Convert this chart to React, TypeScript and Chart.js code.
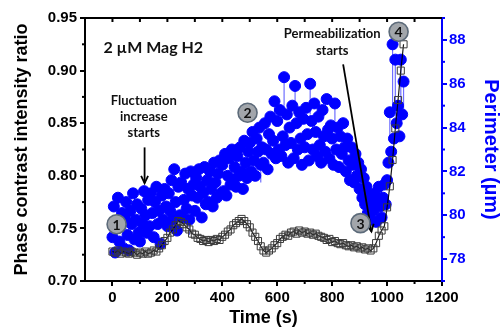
import React, { useEffect, useRef } from 'react';
import { Chart, registerables } from 'chart.js';

Chart.register(...registerables);

// ---------- data ----------
const ratioTimes = [
  0, 10, 20, 30, 40, 50, 60, 70, 80, 90, 100, 110, 120, 130, 140, 150, 160, 170, 180, 190,
  200, 210, 220, 230, 240, 250, 260, 270, 280, 290, 300, 310, 320, 330, 340, 350, 360, 370, 380, 390,
  400, 410, 420, 430, 440, 450, 460, 470, 480, 490, 500, 510, 520, 530, 540, 550, 560, 570, 580, 590,
  600, 610, 620, 630, 640, 650, 660, 670, 680, 690, 700, 710, 720, 730, 740, 750, 760, 770, 780, 790,
  800, 810, 820, 830, 840, 850, 860, 870, 880, 890, 900, 910, 920, 930, 940, 950, 960, 970, 980, 990,
  1000, 1010, 1020, 1030, 1040, 1050, 1060,
];
const ratio = [
  0.728, 0.727, 0.729, 0.726, 0.728, 0.727, 0.726, 0.728, 0.727, 0.725, 0.727, 0.726, 0.728, 0.726, 0.727, 0.729, 0.728, 0.731, 0.734, 0.738,
  0.741, 0.746, 0.749, 0.753, 0.757, 0.756, 0.754, 0.751, 0.749, 0.745, 0.744, 0.741, 0.740, 0.738, 0.739, 0.737, 0.739, 0.738, 0.740, 0.739,
  0.742, 0.744, 0.747, 0.749, 0.753, 0.755, 0.757, 0.759, 0.757, 0.754, 0.751, 0.746, 0.742, 0.738, 0.733, 0.729, 0.727, 0.729, 0.731, 0.734,
  0.736, 0.740, 0.742, 0.744, 0.743, 0.746, 0.747, 0.745, 0.748, 0.746, 0.747, 0.745, 0.746, 0.744, 0.745, 0.743, 0.742, 0.741, 0.739, 0.740,
  0.737, 0.738, 0.736, 0.735, 0.736, 0.734, 0.733, 0.734, 0.732, 0.733, 0.731, 0.732, 0.730, 0.731, 0.729, 0.731, 0.736, 0.743, 0.748, 0.752,
  0.770, 0.790, 0.815, 0.845, 0.872, 0.900, 0.925,
];

const perimeterTimes = [
  0, 5, 10, 15, 20, 25, 30, 35, 40, 45, 50, 55, 60, 65, 70, 75, 80, 85, 90, 95,
  100, 105, 110, 115, 120, 125, 130, 135, 140, 145, 150, 155, 160, 165, 170, 175, 180, 185, 190, 195,
  200, 205, 210, 215, 220, 225, 230, 235, 240, 245, 250, 255, 260, 265, 270, 275, 280, 285, 290, 295,
  300, 305, 310, 315, 320, 325, 330, 335, 340, 345, 350, 355, 360, 365, 370, 375, 380, 385, 390, 395,
  400, 405, 410, 415, 420, 425, 430, 435, 440, 445, 450, 455, 460, 465, 470, 475, 480, 485, 490, 495,
  500, 505, 510, 515, 520, 525, 530, 535, 540, 545, 550, 555, 560, 565, 570, 575, 580, 585, 590, 595,
  600, 605, 610, 615, 620, 625, 630, 635, 640, 645, 650, 655, 660, 665, 670, 675, 680, 685, 690, 695,
  700, 705, 710, 715, 720, 725, 730, 735, 740, 745, 750, 755, 760, 765, 770, 775, 780, 785, 790, 795,
  800, 805, 810, 815, 820, 825, 830, 835, 840, 845, 850, 855, 860, 865, 870, 875, 880, 885, 890, 895,
  900, 905, 910, 915, 920, 925, 930, 935, 940, 945, 950, 955, 960, 965, 970, 975, 980, 985, 990, 995,
  1000, 1005, 1010, 1015, 1020, 1025, 1030, 1035, 1040, 1045, 1050, 1055, 1060,
];
const perimeter = [
  79.0, 80.4, 78.3, 79.7, 80.8, 78.8, 79.5, 80.1, 78.5, 79.9, 80.6, 79.1, 78.4, 80.2, 79.6, 81.0, 78.9, 79.8, 80.5, 79.2,
  78.8, 80.3, 79.6, 81.1, 80.0, 79.2, 80.7, 79.5, 81.0, 80.1, 79.0, 80.6, 81.3, 79.6, 80.2, 78.7, 80.9, 79.8, 81.2, 80.4,
  79.5, 81.0, 80.2, 81.6, 79.8, 82.1, 80.6, 79.3, 81.3, 80.0, 81.5, 79.9, 80.7, 81.9, 80.3, 81.2, 79.8, 82.0, 80.9, 81.4,
  80.2, 81.7, 80.8, 82.1, 81.3, 79.9, 81.0, 82.2, 80.5, 81.6, 80.6, 82.0, 81.2, 80.4, 82.4, 81.5, 80.8, 81.9, 82.5, 81.0,
  82.3, 81.1, 82.8, 80.9, 81.8, 82.6, 81.4, 83.0, 81.6, 82.2, 81.3, 82.7, 81.8, 83.1, 82.0, 81.2, 83.4, 82.4, 81.7, 82.9,
  83.3, 82.0, 83.8, 82.5, 81.8, 83.5, 82.9, 84.0, 82.3, 83.1, 82.4, 84.2, 83.0, 82.1, 83.7, 84.5, 82.8, 83.4, 85.2, 82.6,
  84.3, 83.0, 84.8, 82.7, 83.6, 86.3, 83.2, 84.6, 82.4, 84.0, 83.3, 85.0, 82.6, 85.9, 84.2, 83.0, 84.7, 83.5, 82.3, 84.4,
  83.1, 84.9, 83.7, 82.5, 86.0, 84.3, 83.0, 85.1, 83.8, 82.7, 84.5, 83.2, 82.4, 84.8, 83.6, 82.9, 85.3, 83.9, 82.6, 84.1,
  83.5, 82.3, 85.1, 83.0, 84.0, 82.2, 83.6, 82.8, 84.2, 83.1, 82.0, 83.5, 82.5, 81.6, 83.1, 82.3, 81.5, 82.8, 81.8, 82.4,
  81.2, 82.1, 80.8, 81.7, 80.5, 81.3, 80.1, 80.9, 79.8, 80.6, 80.2, 81.0, 79.7, 80.6, 81.3, 80.4, 79.9, 80.8, 81.4, 80.5,
  81.6, 82.4, 84.7, 82.9, 87.8, 83.5, 87.1, 84.2, 85.0, 83.6, 87.1, 84.6, 86.1,
];
// downward error bars (only the visible ones)
const errTimes = [170, 225, 280, 385, 540, 590, 625, 665, 720, 810, 1010, 1020, 1030, 1050, 1060];
const errDown = [0.6, 0.8, 0.7, 0.6, 0.8, 1.0, 1.3, 1.2, 1.4, 1.0, 1.2, 3.2, 2.6, 2.8, 1.6];

const xTicks = [0, 200, 400, 600, 800, 1000, 1200];
const xMinor = [100, 300, 500, 700, 900, 1100];
const yTicks = [0.7, 0.75, 0.8, 0.85, 0.9, 0.95];
const yMinor = [0.725, 0.775, 0.825, 0.875, 0.925];
const y2Ticks = [78, 80, 82, 84, 86, 88];
const y2Minor = [77, 79, 81, 83, 85, 87, 89];

const markerLabels = ['1', '2', '3', '4'];
const markerTimes = [15, 492, 903, 1042];
const markerRatios = [0.754, 0.86, 0.755, 0.937];

const concText = '2 µM Mag H2';
const fluctLines = ['Fluctuation', 'increase', 'starts'];
const fluctRatios = [0.871, 0.856, 0.841];
const permLines = ['Permeabilization', 'starts'];
const permRatios = [0.935, 0.919];

const BLUE = '#0000ff';
const ARIAL = '"Liberation Sans", Arial, sans-serif';
const NOTE = 'Lato, "Open Sans", sans-serif';

const decor = {
  id: 'decor',
  beforeDatasetsDraw(chart: any) {
    const { ctx } = chart;
    const x = chart.scales.x;
    const y2 = chart.scales.y2;
    ctx.save();
    ctx.strokeStyle = '#6f6fff';
    ctx.lineWidth = 1.2;
    errTimes.forEach((t, i) => {
      const idx = perimeterTimes.indexOf(t);
      if (idx < 0) return;
      const v = perimeter[idx];
      const px = x.getPixelForValue(t);
      ctx.beginPath();
      ctx.moveTo(px, y2.getPixelForValue(v));
      ctx.lineTo(px, y2.getPixelForValue(v - errDown[i]));
      ctx.stroke();
    });
    ctx.restore();
  },
  afterDraw(chart: any) {
    const { ctx, chartArea: a } = chart;
    const x = chart.scales.x;
    const y = chart.scales.y;
    const y2 = chart.scales.y2;
    ctx.save();
    // top border
    ctx.strokeStyle = '#000';
    ctx.lineWidth = 2;
    ctx.beginPath();
    ctx.moveTo(a.left - 1, a.top);
    ctx.lineTo(a.right, a.top);
    ctx.stroke();
    // top ticks (inward)
    [...xTicks, ...xMinor].forEach((v) => {
      const px = x.getPixelForValue(v);
      if (px > a.right - 1) return;
      ctx.beginPath();
      ctx.moveTo(px, a.top);
      ctx.lineTo(px, a.top + 4);
      ctx.stroke();
    });
    // bottom minor ticks
    xMinor.forEach((v) => {
      const px = x.getPixelForValue(v);
      ctx.beginPath();
      ctx.moveTo(px, a.bottom);
      ctx.lineTo(px, a.bottom + 3);
      ctx.stroke();
    });
    // left minor ticks
    yMinor.forEach((v) => {
      const py = y.getPixelForValue(v);
      ctx.beginPath();
      ctx.moveTo(a.left, py);
      ctx.lineTo(a.left - 3, py);
      ctx.stroke();
    });
    // right minor ticks
    ctx.strokeStyle = BLUE;
    y2Minor.forEach((v) => {
      const py = y2.getPixelForValue(v);
      ctx.beginPath();
      ctx.moveTo(a.right, py);
      ctx.lineTo(a.right + 3, py);
      ctx.stroke();
    });

    // annotations
    ctx.fillStyle = '#111';
    ctx.textBaseline = 'middle';
    ctx.font = `bold 16px ${NOTE}`;
    ctx.textAlign = 'left';
    ctx.fillText(concText, x.getPixelForValue(-33), y.getPixelForValue(0.922));
    ctx.font = `bold 13px ${NOTE}`;
    ctx.textAlign = 'center';
    fluctLines.forEach((s, i) => ctx.fillText(s, x.getPixelForValue(114), y.getPixelForValue(fluctRatios[i])));
    permLines.forEach((s, i) => ctx.fillText(s, x.getPixelForValue(800), y.getPixelForValue(permRatios[i])));

    const arrow = (t0: number, v0: number, t1: number, v1: number) => {
      const x0 = x.getPixelForValue(t0), y0 = y.getPixelForValue(v0);
      const x1 = x.getPixelForValue(t1), y1 = y.getPixelForValue(v1);
      ctx.strokeStyle = '#000';
      ctx.lineWidth = 1.8;
      ctx.beginPath();
      ctx.moveTo(x0, y0);
      ctx.lineTo(x1, y1);
      ctx.stroke();
      const ang = Math.atan2(y1 - y0, x1 - x0);
      const L = 8;
      ctx.beginPath();
      ctx.moveTo(x1 - L * Math.cos(ang - 0.45), y1 - L * Math.sin(ang - 0.45));
      ctx.lineTo(x1, y1);
      ctx.lineTo(x1 - L * Math.cos(ang + 0.45), y1 - L * Math.sin(ang + 0.45));
      ctx.stroke();
    };
    arrow(117, 0.827, 117, 0.793);
    arrow(840, 0.906, 943, 0.747);

    markerLabels.forEach((s, i) => {
      const px = x.getPixelForValue(markerTimes[i]);
      const py = y.getPixelForValue(markerRatios[i]);
      ctx.beginPath();
      ctx.arc(px, py, 9.5, 0, Math.PI * 2);
      ctx.fillStyle = '#a2a6ab';
      ctx.fill();
      ctx.strokeStyle = '#5d6b7a';
      ctx.lineWidth = 1.6;
      ctx.stroke();
      ctx.fillStyle = '#111';
      ctx.font = `bold 14px ${NOTE}`;
      ctx.textAlign = 'center';
      ctx.fillText(s, px, py + 1);
    });
    ctx.restore();
  },
};

export default function App() {
  const ref = useRef<HTMLCanvasElement>(null);
  useEffect(() => {
    const canvas = ref.current!;
    const chart = new Chart(canvas, {
      type: 'scatter',
      data: {
        datasets: [
          {
            label: 'Phase contrast intensity ratio',
            data: ratioTimes.map((t, i) => ({ x: t, y: ratio[i] })),
            yAxisID: 'y',
            showLine: true,
            borderColor: 'rgba(0,0,0,0.9)',
            borderWidth: 1.2,
            pointStyle: 'rect',
            pointRadius: 5,
            pointBorderColor: '#3a3a3a',
            pointBackgroundColor: 'rgba(255,255,255,0)',
            pointBorderWidth: 1,
            order: 0,
          },
          {
            label: 'Perimeter',
            data: perimeterTimes.map((t, i) => ({ x: t, y: perimeter[i] })),
            yAxisID: 'y2',
            showLine: false,
            pointStyle: 'circle',
            pointRadius: 5.5,
            pointBackgroundColor: BLUE,
            pointBorderColor: BLUE,
            pointBorderWidth: 1,
            order: 1,
          },
        ],
      } as any,
      options: {
        responsive: false,
        animation: false,
        layout: { padding: { top: 18, left: 0, right: 0, bottom: 0 } },
        plugins: { legend: { display: false }, tooltip: { enabled: false } },
        scales: {
          x: {
            type: 'linear',
            position: 'bottom',
            min: -100,
            max: 1200,
            afterBuildTicks: (s: any) => { s.ticks = xTicks.map((v) => ({ value: v })); },
            afterFit: (s: any) => { s.height = 50; },
            grid: { drawOnChartArea: false, drawTicks: true, tickLength: 5, color: '#000', lineWidth: 2 },
            border: { display: true, color: '#000', width: 2 },
            ticks: { color: '#000', font: { family: ARIAL, size: 15, weight: 'bold' }, padding: 3, maxRotation: 0, autoSkip: false, callback: (v: any) => String(v) },
            title: { display: true, text: 'Time (s)', color: '#000', font: { family: ARIAL, size: 18, weight: 'bold', lineHeight: 1 }, padding: { top: 0, bottom: 4 } },
          },
          y: {
            type: 'linear',
            position: 'left',
            min: 0.7,
            max: 0.95,
            afterBuildTicks: (s: any) => { s.ticks = yTicks.map((v) => ({ value: v })); },
            afterFit: (s: any) => { s.width = 85; },
            grid: { drawOnChartArea: false, drawTicks: true, tickLength: 5, color: '#000', lineWidth: 2 },
            border: { display: true, color: '#000', width: 2 },
            ticks: { color: '#000', font: { family: ARIAL, size: 15, weight: 'bold' }, padding: 3, callback: (v: any) => Number(v).toFixed(2) },
            title: { display: true, text: 'Phase contrast intensity ratio', color: '#000', font: { family: ARIAL, size: 18, weight: 'bold', lineHeight: 1 }, padding: { top: 13, bottom: 0 } },
          },
          y2: {
            type: 'linear',
            position: 'right',
            min: 77,
            max: 89,
            afterBuildTicks: (s: any) => { s.ticks = y2Ticks.map((v) => ({ value: v })); },
            afterFit: (s: any) => { s.width = 59; },
            grid: { drawOnChartArea: false, drawTicks: true, tickLength: 5, color: BLUE, lineWidth: 2 },
            border: { display: true, color: BLUE, width: 2 },
            ticks: { color: BLUE, font: { family: ARIAL, size: 15, weight: 'bold' }, padding: 2, callback: (v: any) => String(v) },
            title: { display: true, text: 'Perimeter (µm)', color: BLUE, font: { family: ARIAL, size: 20, weight: 'bold', lineHeight: 1 }, padding: { top: 0, bottom: 0 } },
          },
        },
      } as any,
      plugins: [decor],
    });
    return () => chart.destroy();
  }, []);
  return (
    <div style={{ position: 'fixed', left: 0, top: 0, width: 501, height: 331, background: '#fff' }}>
      <canvas ref={ref} width={501} height={331} style={{ display: 'block', width: 501, height: 331 }} />
    </div>
  );
}
